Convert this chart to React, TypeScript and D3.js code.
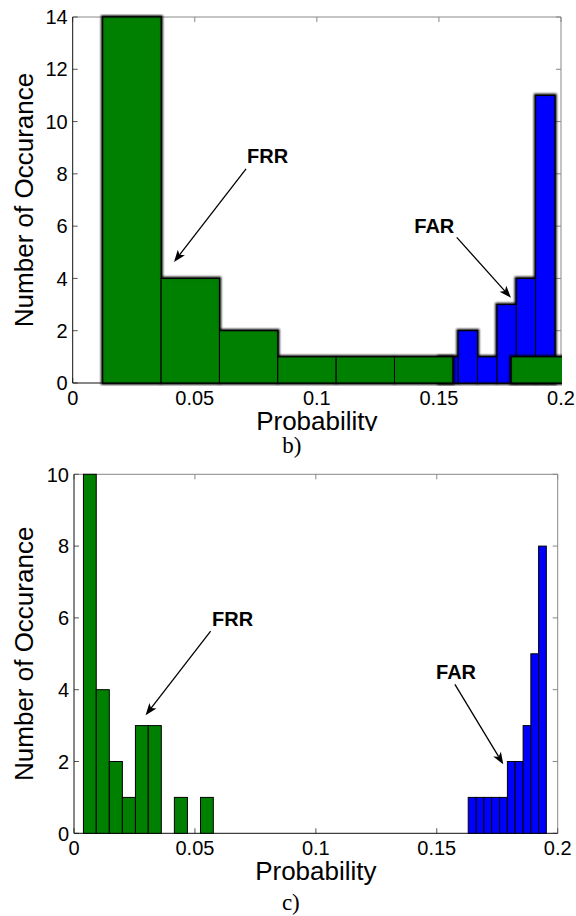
import * as React from "react";
import * as d3 from "d3";

// panel b) histogram bins (bin edges + counts)
const bFrrEdges = [0.0123, 0.0362, 0.0601, 0.084, 0.1079, 0.1318, 0.1557, 0.1796, 0.2035];
const bFrrCounts = [14, 4, 2, 1, 1, 1, 0, 1];
const bFarEdges = [0.15, 0.1579, 0.1658, 0.1738, 0.1817, 0.1896, 0.1975];
const bFarCounts = [1, 2, 1, 3, 4, 11];

// panel c)
const cFrrEdges = [0.0039, 0.0092, 0.0146, 0.02, 0.0254, 0.0307, 0.0361, 0.0415, 0.0469, 0.0523, 0.0576];
const cFrrCounts = [10, 4, 2, 1, 3, 3, 0, 1, 0, 1];
const cFarEdges = [0.163, 0.1663, 0.1695, 0.1727, 0.176, 0.1792, 0.1824, 0.1857, 0.1889, 0.1921, 0.1953];
const cFarCounts = [1, 1, 1, 1, 1, 2, 2, 3, 5, 8];

const xTicks = [0, 0.05, 0.1, 0.15, 0.2];
const xTickLabels = ["0", "0.05", "0.1", "0.15", "0.2"];
const bYTicks = [0, 2, 4, 6, 8, 10, 12, 14];
const cYTicks = [0, 2, 4, 6, 8, 10];

// annotation: label anchor, arrow start, arrow end (data units)
const bNotes = [
  { text: "FRR", at: [0.0714, 8.42], from: [0.071, 8.19], to: [0.0415, 4.63] },
  { text: "FAR", at: [0.1399, 5.75], from: [0.1573, 5.57], to: [0.1795, 3.26] }
];
const cNotes = [
  { text: "FRR", at: [0.0571, 5.77], from: [0.0565, 5.63], to: [0.0296, 3.29] },
  { text: "FAR", at: [0.1497, 4.29], from: [0.1575, 4.15], to: [0.1775, 1.92] }
];

const SANS = "'Liberation Sans', Arial, sans-serif";
const SERIF = "'Liberation Serif', 'Times New Roman', serif";
const GREEN = "#008000";
const BLUE = "#0000ff";

interface PanelProps {
  id: string;
  left: number;
  right: number;
  top: number;
  bottom: number;
  yMax: number;
  yTicks: number[];
  frrEdges: number[];
  frrCounts: number[];
  farEdges: number[];
  farCounts: number[];
  notes: { text: string; at: number[]; from: number[]; to: number[] }[];
  caption: string;
  captionY: number;
  glow: boolean;
  labelClip?: number;
}

function bins(edges: number[], counts: number[]) {
  return counts
    .map((c, i) => ({ x0: edges[i], x1: edges[i + 1], c }))
    .filter(d => d.c > 0);
}

function Arrow({ x1, y1, x2, y2 }: { x1: number; y1: number; x2: number; y2: number }) {
  const ang = Math.atan2(y2 - y1, x2 - x1);
  const len = 12;
  const hw = 4.5;
  const bx = x2 - len * Math.cos(ang);
  const by = y2 - len * Math.sin(ang);
  const nx = -Math.sin(ang);
  const ny = Math.cos(ang);
  const nb = 3;
  const p = [
    [x2, y2],
    [bx + nx * hw, by + ny * hw],
    [x2 - (len - nb) * Math.cos(ang), y2 - (len - nb) * Math.sin(ang)],
    [bx - nx * hw, by - ny * hw]
  ];
  return (
    <g>
      <line x1={x1} y1={y1} x2={bx + nb * Math.cos(ang)} y2={by + nb * Math.sin(ang)} stroke="#000" strokeWidth={1.3} />
      <path d={"M" + p.map(q => q.join(",")).join("L") + "Z"} fill="#000" />
    </g>
  );
}

function Panel(p: PanelProps) {
  const x = d3.scaleLinear().domain([0, 0.2]).range([p.left, p.right]);
  const y = d3.scaleLinear().domain([0, p.yMax]).range([p.bottom, p.top]);
  const frr = bins(p.frrEdges, p.frrCounts);
  const far = bins(p.farEdges, p.farCounts);
  const tl = 5;
  const cx = (p.left + p.right) / 2;
  const cy = (p.top + p.bottom) / 2;

  const barSet = (data: { x0: number; x1: number; c: number }[], color: string, key: string) => (
    <g key={key}>
      {p.glow && (
        <g filter={`url(#halo-${p.id})`}>
          {data.map((d, i) => (
            <rect key={i} x={x(d.x0)} y={y(d.c)} width={x(d.x1) - x(d.x0)} height={y(0) - y(d.c)}
              fill="#000" stroke="#000" strokeWidth={3.5} />
          ))}
        </g>
      )}
      <g filter={p.glow ? `url(#inner-${p.id})` : undefined}>
        {data.map((d, i) => (
          <rect key={i} x={x(d.x0)} y={y(d.c)} width={x(d.x1) - x(d.x0)} height={y(0) - y(d.c)}
            fill={color} stroke="#000" strokeWidth={1} />
        ))}
      </g>
    </g>
  );

  return (
    <g>
      <defs>
        <clipPath id={`plot-${p.id}`}>
          <rect x={p.left - 3} y={p.top - 3} width={p.right - p.left + 4} height={p.bottom - p.top + 6} />
        </clipPath>
        {p.labelClip !== undefined && (
          <clipPath id={`lab-${p.id}`}>
            <rect x={0} y={0} width={576} height={p.labelClip} />
          </clipPath>
        )}
        <filter id={`halo-${p.id}`} x="-20%" y="-20%" width="140%" height="140%">
          <feGaussianBlur stdDeviation={1.1} />
        </filter>
        <filter id={`inner-${p.id}`} x="-10%" y="-10%" width="120%" height="120%">
          <feFlood floodColor="#000" result="f" />
          <feComposite in="f" in2="SourceAlpha" operator="out" result="o" />
          <feGaussianBlur in="o" stdDeviation={1.4} result="b" />
          <feComposite in="b" in2="SourceAlpha" operator="in" result="s" />
          <feMerge>
            <feMergeNode in="SourceGraphic" />
            <feMergeNode in="s" />
          </feMerge>
        </filter>
      </defs>

      {/* box and ticks */}
      <line x1={p.left} x2={p.right} y1={p.top} y2={p.top} stroke="#888" />
      <line x1={p.right} x2={p.right} y1={p.top} y2={p.bottom} stroke="#888" />
      {xTicks.map(t => (
        <g key={"xt" + t}>
          <line x1={x(t)} x2={x(t)} y1={p.bottom} y2={p.bottom - tl} stroke="#555" />
          <line x1={x(t)} x2={x(t)} y1={p.top} y2={p.top + tl} stroke="#888" />
        </g>
      ))}
      {p.yTicks.map(t => (
        <g key={"yt" + t}>
          <line x1={p.left} x2={p.left + tl} y1={y(t)} y2={y(t)} stroke="#555" />
          <line x1={p.right} x2={p.right - tl} y1={y(t)} y2={y(t)} stroke="#888" />
        </g>
      ))}
      <line x1={p.left} x2={p.right} y1={p.bottom} y2={p.bottom} stroke="#111" />
      <line x1={p.left} x2={p.left} y1={p.top} y2={p.bottom} stroke="#111" />

      <g clipPath={`url(#plot-${p.id})`}>
        {barSet(far, BLUE, "far")}
        {barSet(frr, GREEN, "frr")}
      </g>

      {/* tick labels */}
      <g fontFamily={SANS} fontSize={20} fill="#000">
        {xTicks.map((t, i) => (
          <text key={"xl" + t} x={x(t)} y={p.bottom + 22} textAnchor="middle">{xTickLabels[i]}</text>
        ))}
        {p.yTicks.map(t => (
          <text key={"yl" + t} x={p.left - 5} y={y(t)} dy="0.36em" textAnchor="end">{t}</text>
        ))}
      </g>

      <text x={cx} y={p.bottom + 47} textAnchor="middle" fontFamily={SANS} fontSize={26}
        clipPath={p.labelClip !== undefined ? `url(#lab-${p.id})` : undefined}>Probability</text>
      <text transform={`translate(33,${cy}) rotate(-90)`} textAnchor="middle" fontFamily={SANS} fontSize={26}>
        Number of Occurance
      </text>
      <text x={cx - 25} y={p.captionY} textAnchor="middle" fontFamily={SERIF} fontSize={23}>{p.caption}</text>

      {p.notes.map(n => (
        <g key={n.text}>
          <text x={x(n.at[0])} y={y(n.at[1])} fontFamily={SANS} fontWeight="bold" fontSize={20}>{n.text}</text>
          <Arrow x1={x(n.from[0])} y1={y(n.from[1])} x2={x(n.to[0])} y2={y(n.to[1])} />
        </g>
      ))}
    </g>
  );
}

export default function App() {
  return (
    <svg width={576} height={916} style={{ position: "absolute", left: 0, top: 0, background: "#fff" }}>
      <rect width={576} height={916} fill="#fff" />
      <Panel id="b" left={72.7} right={561} top={17} bottom={383} yMax={14} yTicks={bYTicks}
        frrEdges={bFrrEdges} frrCounts={bFrrCounts} farEdges={bFarEdges} farCounts={bFarCounts}
        notes={bNotes} caption="b)" captionY={453} glow={true} labelClip={431} />
      <Panel id="c" left={74} right={557.7} top={474.3} bottom={833.3} yMax={10} yTicks={cYTicks}
        frrEdges={cFrrEdges} frrCounts={cFrrCounts} farEdges={cFarEdges} farCounts={cFarCounts}
        notes={cNotes} caption="c)" captionY={910} glow={false} />
    </svg>
  );
}
